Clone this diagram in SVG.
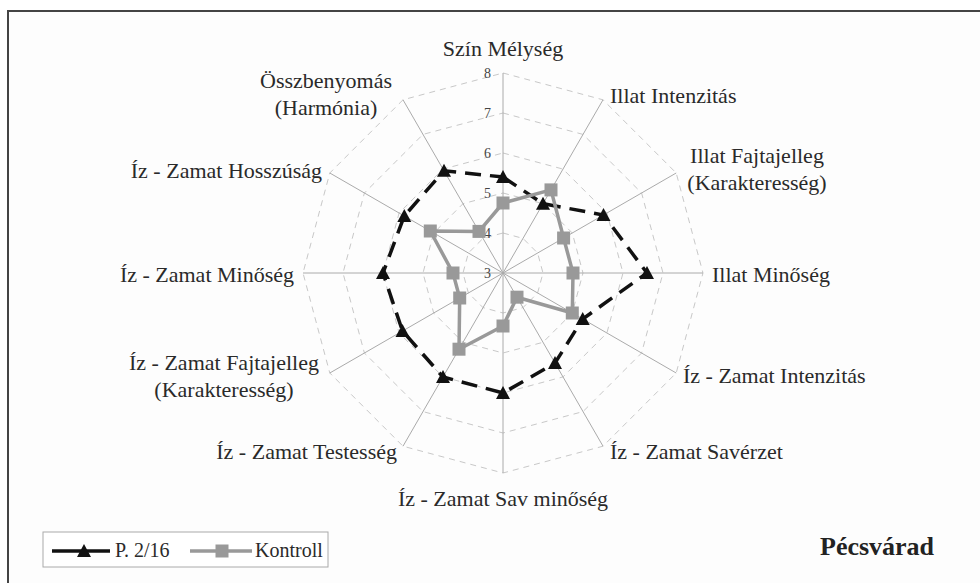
<svg xmlns="http://www.w3.org/2000/svg" width="980" height="583" viewBox="0 0 980 583">
<defs>
<style>
.lbl{font-family:"Liberation Serif","Times New Roman",serif;font-size:22px;fill:#2a2a2a}
.tick{font-family:"Liberation Serif","Times New Roman",serif;font-size:14px;fill:#444;text-anchor:end;dominant-baseline:central}
.grid{fill:none;stroke:#c8c8c8;stroke-width:1;stroke-dasharray:6,5}
.axis{stroke:#aaa;stroke-width:1}
.p{fill:none;stroke:#111;stroke-width:3.5;stroke-dasharray:16,9}
.k{fill:none;stroke:#999;stroke-width:3.5;stroke-linejoin:round}
</style>
<path id="tri" d="M0,-7 L7,6 L-7,6 Z" fill="#111"/>
<rect id="sq" x="-6.5" y="-6.5" width="13" height="13" fill="#999"/>
</defs>
<rect x="0" y="0" width="980" height="583" fill="#fff"/>
<rect x="8" y="11" width="1000" height="1000" fill="#fdfdfd" stroke="#444" stroke-width="2"/>

<g id="grid">
<polygon class="grid" points="503,233 523,238.4 537.6,253 543,273 537.6,293 523,307.6 503,313 483,307.6 468.4,293 463,273 468.4,253 483,238.4"/>
<polygon class="grid" points="503,193 543,203.7 572.3,233 583,273 572.3,313 543,342.3 503,353 463,342.3 433.7,313 423,273 433.7,233 463,203.7"/>
<polygon class="grid" points="503,153 563,169.1 606.9,213 623,273 606.9,333 563,376.9 503,393 443,376.9 399.1,333 383,273 399.1,213 443,169.1"/>
<polygon class="grid" points="503,113 583,134.4 641.6,193 663,273 641.6,353 583,411.6 503,433 423,411.6 364.4,353 343,273 364.4,193 423,134.4"/>
<polygon class="grid" points="503,73 603,99.8 676.2,173 703,273 676.2,373 603,446.2 503,473 403,446.2 329.8,373 303,273 329.8,173 403,99.8"/>
</g>
<g id="axes">
<line class="axis" x1="503" y1="273" x2="503" y2="73"/>
<line class="axis" x1="503" y1="273" x2="603" y2="99.8"/>
<line class="axis" x1="503" y1="273" x2="676.2" y2="173"/>
<line class="axis" x1="503" y1="273" x2="703" y2="273"/>
<line class="axis" x1="503" y1="273" x2="676.2" y2="373"/>
<line class="axis" x1="503" y1="273" x2="603" y2="446.2"/>
<line class="axis" x1="503" y1="273" x2="503" y2="473"/>
<line class="axis" x1="503" y1="273" x2="403" y2="446.2"/>
<line class="axis" x1="503" y1="273" x2="329.8" y2="373"/>
<line class="axis" x1="503" y1="273" x2="303" y2="273"/>
<line class="axis" x1="503" y1="273" x2="329.8" y2="173"/>
<line class="axis" x1="503" y1="273" x2="403" y2="99.8"/>
</g>
<g id="ticks">
<text class="tick" x="491" y="273">3</text>
<text class="tick" x="491" y="233">4</text>
<text class="tick" x="491" y="193">5</text>
<text class="tick" x="491" y="153">6</text>
<text class="tick" x="491" y="113">7</text>
<text class="tick" x="491" y="73">8</text>
</g>

<g id="connectors">
<polygon id="series-p" class="p" points="503,177 543,203.7 603.5,215 647,273 582.7,319 555,363 503,393 443,377 402.5,331 383,273 404.3,216 444,170.8"/>
<polygon id="series-k" class="k" points="503,203 551,189.9 563.6,238 573,273 572.3,313 517,297.2 503,326 459,349.2 459.7,298 453,273 430.3,231 479,231.4"/>
</g>
<g id="markers-p">
<use href="#tri" x="503" y="177"/><use href="#tri" x="543" y="203.7"/><use href="#tri" x="603.5" y="215"/><use href="#tri" x="647" y="273"/><use href="#tri" x="582.7" y="319"/><use href="#tri" x="555" y="363"/><use href="#tri" x="503" y="393"/><use href="#tri" x="443" y="377"/><use href="#tri" x="402.5" y="331"/><use href="#tri" x="383" y="273"/><use href="#tri" x="404.3" y="216"/><use href="#tri" x="444" y="170.8"/>
</g>
<g id="markers-k">
<use href="#sq" x="503" y="203"/><use href="#sq" x="551" y="189.9"/><use href="#sq" x="563.6" y="238"/><use href="#sq" x="573" y="273"/><use href="#sq" x="572.3" y="313"/><use href="#sq" x="517" y="297.2"/><use href="#sq" x="503" y="326"/><use href="#sq" x="459" y="349.2"/><use href="#sq" x="459.7" y="298"/><use href="#sq" x="453" y="273"/><use href="#sq" x="430.3" y="231"/><use href="#sq" x="479" y="231.4"/>
</g>

<g id="label-szin"><text class="lbl" x="503" y="56" text-anchor="middle">Szín Mélység</text></g>
<g id="label-illat-int"><text class="lbl" x="610" y="103">Illat Intenzitás</text></g>
<g id="label-illat-fajta"><text class="lbl" x="757" y="163" text-anchor="middle">Illat Fajtajelleg</text><text class="lbl" x="757" y="190" text-anchor="middle">(Karakteresség)</text></g>
<g id="label-illat-min"><text class="lbl" x="712" y="282">Illat Minőség</text></g>
<g id="label-iz-int"><text class="lbl" x="683" y="383">Íz - Zamat Intenzitás</text></g>
<g id="label-iz-saverzet"><text class="lbl" x="610" y="459">Íz - Zamat Savérzet</text></g>
<g id="label-iz-savmin"><text class="lbl" x="503" y="506" text-anchor="middle">Íz - Zamat Sav minőség</text></g>
<g id="label-iz-test"><text class="lbl" x="397" y="459" text-anchor="end">Íz - Zamat Testesség</text></g>
<g id="label-iz-fajta"><text class="lbl" x="224" y="370" text-anchor="middle">Íz - Zamat Fajtajelleg</text><text class="lbl" x="224" y="397" text-anchor="middle">(Karakteresség)</text></g>
<g id="label-iz-min"><text class="lbl" x="294" y="282" text-anchor="end">Íz - Zamat Minőség</text></g>
<g id="label-iz-hossz"><text class="lbl" x="322" y="178" text-anchor="end">Íz - Zamat Hosszúság</text></g>
<g id="label-ossz"><text class="lbl" x="326" y="88" text-anchor="middle">Összbenyomás</text><text class="lbl" x="326" y="115" text-anchor="middle">(Harmónia)</text></g>

<g id="legend">
<rect x="43" y="532" width="285" height="35" fill="#fff" stroke="#aaa" stroke-width="1"/>
<line x1="52" y1="551" x2="110" y2="551" stroke="#111" stroke-width="3.5"/>
<use href="#tri" x="84" y="551"/>
<text class="lbl" x="115" y="557" style="font-size:20px">P. 2/16</text>
<line x1="190" y1="551" x2="252" y2="551" stroke="#999" stroke-width="3.5"/>
<use href="#sq" x="222" y="551"/>
<text class="lbl" x="255" y="557" style="font-size:20px">Kontroll</text>
</g>
<g id="title"><text x="820" y="555" style="font-family:'Liberation Serif','Times New Roman',serif;font-size:26px;font-weight:bold;fill:#222">Pécsvárad</text></g>
</svg>
